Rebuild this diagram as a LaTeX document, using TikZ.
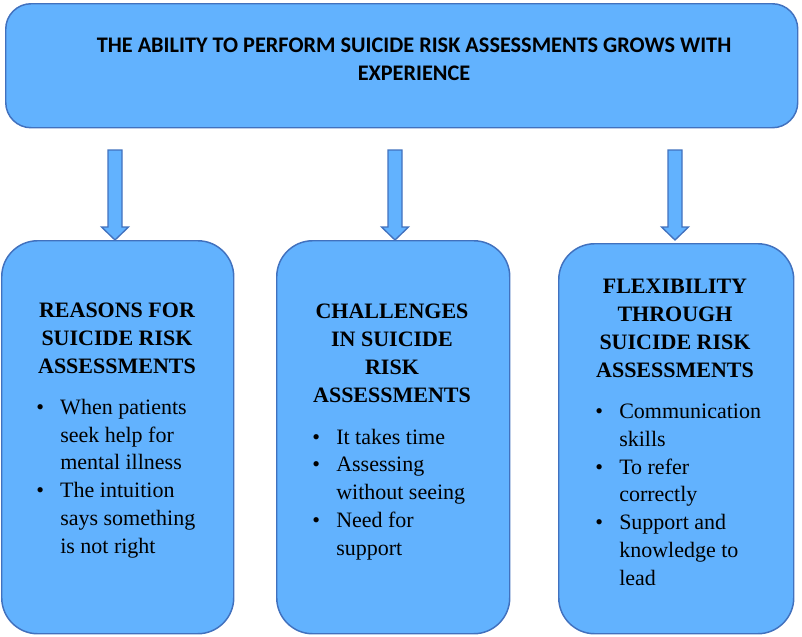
\documentclass[tikz,border=0pt]{standalone}
\usepackage{fontspec}
\setmainfont{Liberation Serif}
\newfontfamily\titlefont{Carlito}
\definecolor{boxfill}{RGB}{98,178,254}
\definecolor{boxline}{RGB}{65,113,190}
\newcommand{\bl}[1]{\makebox[18pt][l]{\textbullet}#1}
\newcommand{\cl}[1]{\hspace*{18pt}#1}
\begin{document}
\begin{tikzpicture}[x=0.75pt,y=-0.75pt,
  box/.style={draw=boxline, fill=boxfill, line width=1.1pt, anchor=north west, inner sep=0pt},
  blockarrow/.style={draw=boxline, fill=boxfill, line width=1pt, line join=miter},
  head/.style={font=\bfseries\fontsize{16.5}{21}\selectfont, align=center, inner sep=0pt, anchor=base},
  body/.style={font=\fontsize{16.5}{20.8}\selectfont, align=left, inner sep=0pt, anchor=base west},
  title/.style={font=\titlefont\bfseries\fontsize{16.7}{21}\selectfont, align=center, inner sep=0pt, anchor=base}
  ]
\useasboundingbox (0,0) rectangle (802,636);
% boxes
\node[box, rounded corners=19pt, minimum width=594pt, minimum height=93pt] (top) at (5,3) {};
\node[box, rounded corners=27pt, minimum width=174pt, minimum height=294.75pt] (b1) at (1,240) {};
\node[box, rounded corners=27pt, minimum width=174.75pt, minimum height=294.75pt] (b2) at (276,240) {};
\node[box, rounded corners=27pt, minimum width=176.25pt, minimum height=292.5pt] (b3) at (558,243) {};
% block arrows
\foreach \x in {115,395,675}{
  \draw[blockarrow] (\x-7,150) -- (\x+7,150) -- (\x+7,227) -- (\x+13.5,227) -- (\x,240) -- (\x-13.5,227) -- (\x-7,227) -- cycle;
}
% title (anchor = baseline of last line)
\node[title] (ttl) at (414,80) {THE ABILITY TO PERFORM SUICIDE RISK ASSESSMENTS GROWS WITH\\EXPERIENCE};
% headings
\node[head] (h1) at (117,373) {REASONS FOR\\SUICIDE RISK\\ASSESSMENTS};
\node[head] (h2) at (392,402) {CHALLENGES\\IN SUICIDE\\RISK\\ASSESSMENTS};
\node[head] (h3) at (675,377) {FLEXIBILITY\\THROUGH\\SUICIDE RISK\\ASSESSMENTS};
% bullets
\node[body] (l1) at (36,553) {\bl{When patients}\\\cl{seek help for}\\\cl{mental illness}\\\bl{The intuition}\\\cl{says something}\\\cl{is not right}};
\node[body] (l2) at (312,555) {\bl{It takes time}\\\bl{Assessing}\\\cl{without seeing}\\\bl{Need for}\\\cl{support}};
\node[body] (l3) at (595,585) {\bl{Communication}\\\cl{skills}\\\bl{To refer}\\\cl{correctly}\\\bl{Support and}\\\cl{knowledge to}\\\cl{lead}};
\end{tikzpicture}
\end{document}
